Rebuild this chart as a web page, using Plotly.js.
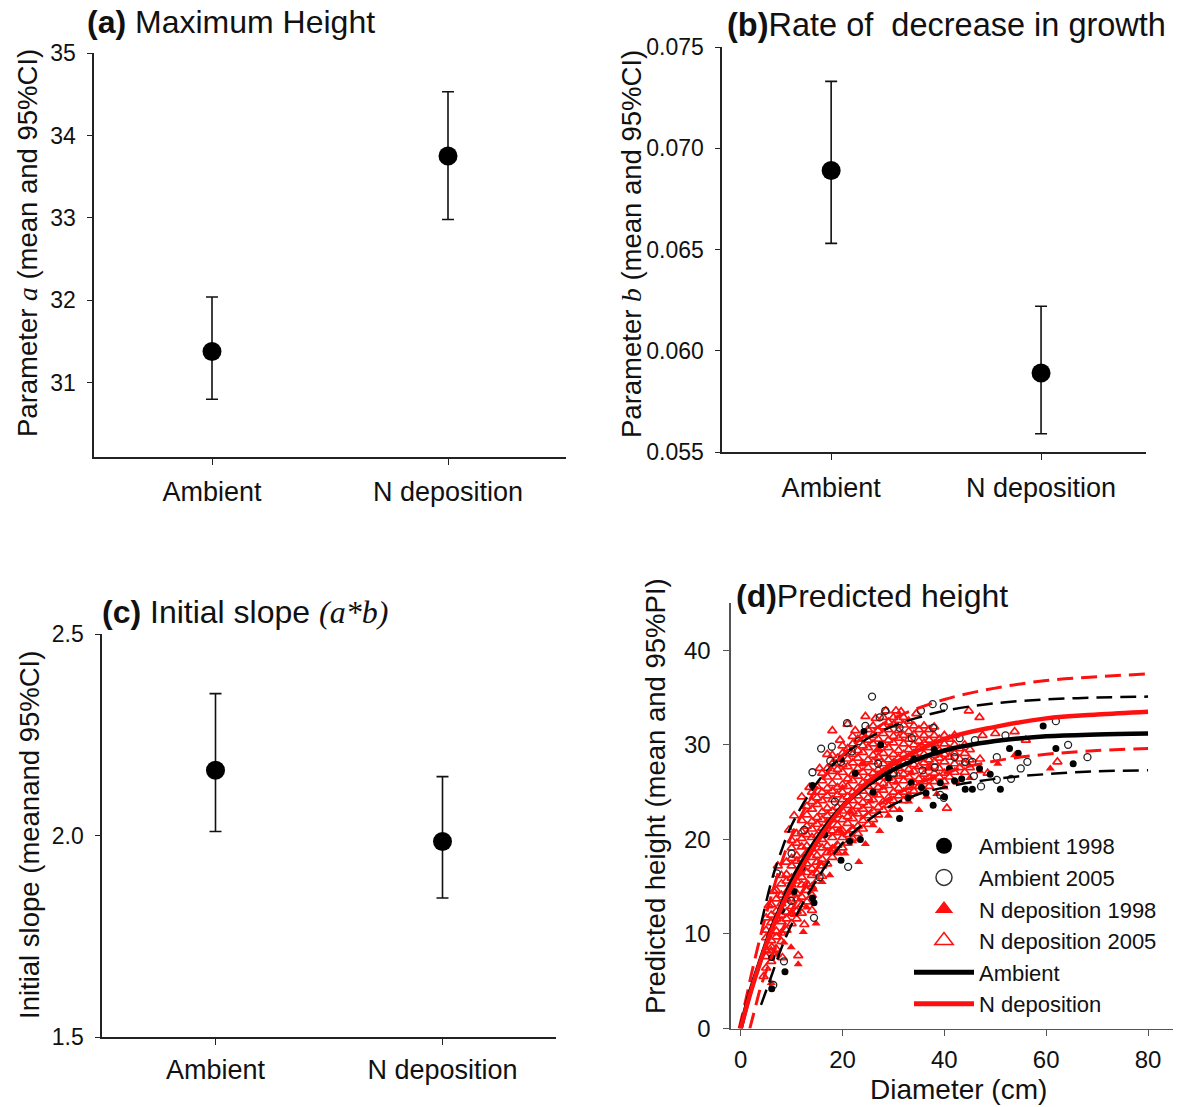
<!DOCTYPE html>
<html><head><meta charset="utf-8">
<script src="https://cdn.plot.ly/plotly-3.0.1.min.js"></script>
<style>html,body{margin:0;padding:0;background:#fff}#chart{width:1192px;height:1107px}</style>
</head><body><div id="chart"></div>
<script>
// ---------- panels a-c: parameter estimates ----------
const groups = ['Ambient', 'N deposition'];
const paramA_mean = [31.38, 33.75];
const paramA_hi   = [32.04, 34.53];
const paramA_lo   = [30.80, 32.98];
const paramB_mean = [0.0689, 0.0589];
const paramB_hi   = [0.0733, 0.0622];
const paramB_lo   = [0.0653, 0.0559];
const slope_mean  = [2.162, 1.985];
const slope_hi    = [2.352, 2.146];
const slope_lo    = [2.010, 1.845];
const ticksA = [31, 32, 33, 34, 35];
const ticksB = [0.055, 0.060, 0.065, 0.070, 0.075];
const ticksC = [1.5, 2.0, 2.5];

// ---------- panel d: fitted curves ----------
const meanD      = [0, 2, 4, 6, 8, 10, 15, 20, 25, 30, 40, 50, 60, 70, 80];
const ambMeanH   = [0, 4.1, 7.4, 10.5, 13.0, 15.6, 20.1, 23.5, 25.8, 27.4, 29.4, 30.4, 30.9, 31.1, 31.2];
const ndepMeanH  = [0, 3.9, 7.3, 10.3, 12.8, 15.0, 19.7, 23.4, 26.1, 28.0, 30.6, 31.9, 32.8, 33.2, 33.5];
const ambHiD     = [4, 6, 8, 10, 15, 20, 25, 30, 35, 40, 50, 60, 70, 80];
const ambHiH     = [11.0, 15.5, 18.8, 21.5, 26.0, 28.8, 30.7, 32.0, 32.9, 33.6, 34.4, 34.8, 35.0, 35.1];
const ambLoD     = [4, 6, 8, 10, 15, 20, 25, 30, 35, 40, 50, 60, 70, 80];
const ambLoH     = [2.5, 5.5, 8.5, 11.0, 15.8, 19.6, 22.0, 23.7, 24.8, 25.5, 26.4, 26.9, 27.2, 27.3];
const ndepHiD    = [-0.3, 1, 2, 4, 6, 8, 10, 15, 20, 25, 30, 40, 50, 60, 70, 80];
const ndepHiH    = [0, 3.0, 5.5, 10.0, 14.0, 17.5, 20.4, 25.5, 28.9, 31.2, 32.8, 34.8, 36.0, 36.8, 37.2, 37.5];
const ndepLoD    = [1.8, 3, 4, 6, 8, 10, 15, 20, 25, 30, 40, 50, 60, 70, 80];
const ndepLoH    = [0, 2.5, 4.5, 7.5, 10.2, 12.5, 17.0, 20.3, 22.8, 24.6, 27.0, 28.3, 29.0, 29.4, 29.6];

// ---------- panel d: observations (diameter, height) ----------
const amb1998 = [[14.1,25.7],[24.2,31.4],[19.7,28.5],[6.1,4.2],[8.7,6.0],[59.4,32.0],[61.9,29.6],[65.3,28.0],
  [51.0,25.3],[52.8,29.6],[54.5,29.1],[42.0,26.2],[43.4,26.4],[44.1,25.3],[45.5,25.3],[37.8,23.6],[31.2,22.2],
  [19.7,17.8],[21.4,19.8],[23.5,20.0],[14.4,13.3],[14.1,13.8],[6.1,7.5],[32.9,24.4],[36.4,24.9],[46.9,27.5],
  [49.0,26.9],[39.2,26.0],[10.5,14.5],[12.0,17.0],[16.5,20.5],[26.0,25.0],[29.0,26.5],[34.0,28.5],[38.0,29.5],
  [41.0,27.5],[8.0,12.5],[22.5,27.0],[27.5,30.0],[33.5,26.0],[35.5,25.5],[40.0,24.5]];
const amb2005 = [[25.8,35.1],[28.4,33.6],[20.9,32.3],[24.5,32.0],[15.8,29.6],[17.9,29.8],[14.1,27.1],[37.7,34.3],
  [35.4,33.6],[27.3,32.9],[61.9,32.5],[64.3,30.0],[68.1,28.7],[56.3,28.2],[55.0,27.5],[50.3,28.7],[53.1,26.4],
  [50.3,26.3],[47.2,25.6],[45.8,26.7],[44.1,28.2],[39.9,24.4],[39.2,24.7],[42.0,28.7],[21.1,17.1],[14.4,11.7],
  [8.5,7.1],[6.4,4.6],[7.1,16.4],[9.9,13.5],[17.6,28.3],[33.6,30.7],[37.8,31.8],[39.9,34.0],[31.2,31.8],
  [23.2,30.4],[19.7,28.2],[21.8,29.3],[35.7,27.3],[38.1,27.6],[45.5,28.2],[43.0,30.7],[12.5,21.0],[10.0,18.5],
  [15.5,16.0],[18.5,24.0],[27.0,28.0],[30.0,27.0],[46.0,30.5],[52.0,31.0]];
const ndep1998 = [[12.3,10.2],[11.3,6.8],[9.9,8.6],[8.5,9.1],[24.5,19.5],[35.0,23.1],[31.2,23.1],[27.3,20.9],
  [60.8,27.5],[53.8,28.9],[14.4,14.7],[23.2,17.6],[18.6,18.7],[14.8,11.1],[6.0,4.8],[7.2,7.8],[10.5,12.0],
  [13.0,12.8],[16.0,15.5],[17.5,16.2],[20.5,18.5],[22.0,19.8],[26.0,21.5],[29.0,22.5],[33.0,24.0],[36.5,24.5],
  [38.5,24.8],[40.0,25.5],[42.5,26.0],[45.0,26.5],[47.0,27.2],[50.5,28.0],[15.5,17.5],[19.5,21.0],[21.5,23.0],
  [25.5,24.0],[28.0,25.5],[30.5,26.0],[33.5,27.0],[37.0,27.5],[20.0,25.5],[17.0,22.0],[12.0,16.5],[9.0,13.5],
  [24.0,28.0],[27.0,29.5],[39.0,29.0]];
// N deposition 2005: dense cloud, one column per diameter class
const ndep2005Cols = [
  [5,[6.4,7.6,8.3,9.6,10.4,11.7]],
  [6,[7.1,8.2,9.3,10.1,11.2,12.0,13.1]],
  [7,[8.4,9.7,10.3,11.6,12.4,13.7,14.6]],
  [8,[9.2,10.1,11.3,12.0,13.2,14.1,15.3,16.2]],
  [9,[10.4,11.6,12.3,13.7,14.4,15.6,16.3,17.6]],
  [10,[11.1,12.2,12.9,14.1,15.2,15.9,17.2,18.0,19.1,19.9]],
  [11,[11.6,12.4,13.7,14.3,15.6,16.4,17.7,18.3,19.6,20.6]],
  [12,[12.2,13.1,13.9,15.2,16.0,17.1,17.9,19.2,20.1,20.8,22.0]],
  [13,[13.4,14.6,15.3,16.5,17.4,18.6,19.3,20.5,21.4,22.6,23.5]],
  [14,[14.1,15.0,16.2,16.9,18.1,19.0,20.2,21.1,21.9,23.2,24.0,25.0]],
  [15,[15.6,16.4,17.6,18.3,19.5,20.4,21.6,22.3,23.7,24.4,25.6]],
  [16,[16.1,17.2,17.9,19.1,20.0,21.2,22.1,22.9,24.1,25.0,26.2,27.0]],
  [17,[17.4,18.6,19.3,20.6,21.4,22.5,23.3,24.6,25.4,26.6,27.5]],
  [18,[18.1,19.0,20.2,20.9,22.1,23.0,24.2,25.1,25.9,27.2,28.0,28.9]],
  [19,[18.6,19.4,20.7,21.5,22.6,23.4,24.7,25.5,26.6,27.4,28.6]],
  [20,[19.1,20.2,20.9,22.1,23.0,24.2,25.0,25.8,27.1,27.9,29.1,29.9]],
  [21,[19.6,20.5,21.7,22.4,23.6,24.5,25.6,26.4,27.7,28.5,29.6]],
  [22,[20.1,21.0,22.2,22.9,24.1,25.0,26.2,26.9,28.1,29.0,30.1,30.9]],
  [23,[20.6,21.4,22.7,23.5,24.6,25.4,26.7,27.5,28.6,29.4,30.6]],
  [24,[21.1,22.0,23.2,23.9,25.1,26.0,27.1,28.0,29.2,29.9,31.0]],
  [25,[21.6,22.5,23.6,24.4,25.6,26.5,27.6,28.4,29.7,30.5,31.6]],
  [26,[22.1,23.0,24.2,24.9,26.1,27.0,28.2,28.9,30.1,31.0,32.0]],
  [27,[22.6,23.4,24.7,25.5,26.6,27.4,28.7,29.5,30.6,31.5]],
  [28,[23.1,24.0,25.2,25.9,27.1,28.0,29.1,30.0,31.2,31.9,32.9]],
  [29,[23.6,24.4,25.7,26.5,27.6,28.4,29.7,30.5,31.6,32.4]],
  [30,[23.2,24.1,25.0,26.2,26.9,28.1,29.0,30.2,30.9,32.1,32.9]],
  [31,[24.6,25.4,26.7,27.5,28.6,29.4,30.7,31.5,32.6]],
  [32,[24.1,25.0,26.2,26.9,28.1,29.0,30.1,31.0,32.1,32.9]],
  [33,[24.6,25.5,26.6,27.4,28.7,29.5,30.6,31.4,32.5]],
  [34,[25.1,26.0,27.2,27.9,29.1,30.0,31.1,32.0]],
  [35,[25.6,26.4,27.7,28.5,29.6,30.4,31.6]],
  [36,[25.1,26.1,26.9,28.1,29.0,30.2,31.0,32.0]],
  [37,[25.6,26.5,27.6,28.4,29.7,30.5,31.6]],
  [38,[26.1,27.0,28.2,28.9,30.1,31.0,31.9]],
  [39,[26.6,27.5,28.6,29.4,30.6]],
  [40,[26.1,27.0,28.2,29.0,30.1,31.0]],
  [41,[26.6,27.4,28.7,29.5,30.6]],
  [42,[27.1,28.0,29.1,30.0,31.0]],
  [43,[27.6,28.5,29.6]],
  [44,[27.1,28.0,29.1,30.0]],
  [45,[27.6,28.4,29.5]]
];
const ndep2005Extra = [[46.9,32.9],[44.8,33.6],[53.8,31.4],[62.2,28.2],[11.3,7.7],[6.1,8.6],[47.5,31.0],[50.0,31.2],
  [56.0,30.5],[40.5,23.3],[12.5,11.0],[14.0,12.5],[8.2,7.5],[18.0,31.5],[21.0,32.2],[24.5,33.0],[28.5,33.6],
  [31.5,33.5],[34.5,33.3],[47.0,28.5],[48.5,27.0],[9.5,21.0],[7.3,17.2],[10.5,22.5],[12.0,24.5],[13.5,25.5],
  [15.5,27.5],[17.0,29.0],[19.5,30.5],[22.5,31.5],[26.5,32.8],[30.5,33.6],[5.5,13.0],[6.5,14.5],[4.5,5.5]];
const diamTicks = [0, 20, 40, 60, 80];
const heightTicks = [0, 10, 20, 30, 40];

// ---------- build ----------
const FONT = 'Liberation Sans, Arial, sans-serif';
const RED = '#ff1010';
const px = p => p[0], py = p => p[1];
const cloudX = [], cloudY = [];
ndep2005Cols.forEach(([d, hs]) => hs.forEach(h => { cloudX.push(d); cloudY.push(h); }));
ndep2005Extra.forEach(p => { cloudX.push(p[0]); cloudY.push(p[1]); });

function est(yv, hi, lo, xa, ya) {
  return {type:'scatter', mode:'markers', x:groups, y:yv, xaxis:xa, yaxis:ya, showlegend:false,
    marker:{size:19, color:'#000'},
    error_y:{type:'data', symmetric:false, array:hi.map((v,i)=>v-yv[i]), arrayminus:lo.map((v,i)=>yv[i]-v),
      color:'#111', thickness:1.6, width:6}};
}
const traces = [
  est(paramA_mean, paramA_hi, paramA_lo, 'x', 'y'),
  est(paramB_mean, paramB_hi, paramB_lo, 'x2', 'y2'),
  est(slope_mean, slope_hi, slope_lo, 'x3', 'y3'),
  // observations
  {type:'scatter', mode:'markers', x:cloudX, y:cloudY, xaxis:'x4', yaxis:'y4', showlegend:false,
    marker:{symbol:'triangle-up-open', size:8, color:RED, line:{width:1.7, color:RED}}},
  {type:'scatter', mode:'markers', x:ndep1998.map(px), y:ndep1998.map(py), xaxis:'x4', yaxis:'y4', showlegend:false,
    marker:{symbol:'triangle-up', size:8, color:RED}},
  {type:'scatter', mode:'markers', x:amb2005.map(px), y:amb2005.map(py), xaxis:'x4', yaxis:'y4', showlegend:false,
    marker:{symbol:'circle-open', size:7, color:'#222', line:{width:1.3, color:'#222'}}},
  {type:'scatter', mode:'markers', x:amb1998.map(px), y:amb1998.map(py), xaxis:'x4', yaxis:'y4', showlegend:false,
    marker:{symbol:'circle', size:7, color:'#000'}},
  // prediction intervals
  {type:'scatter', mode:'lines', x:ambHiD, y:ambHiH, xaxis:'x4', yaxis:'y4', showlegend:false,
    line:{color:'#000', width:2.5, dash:'16px,8px', shape:'spline'}},
  {type:'scatter', mode:'lines', x:ambLoD, y:ambLoH, xaxis:'x4', yaxis:'y4', showlegend:false,
    line:{color:'#000', width:2.5, dash:'16px,8px', shape:'spline'}},
  {type:'scatter', mode:'lines', x:ndepHiD, y:ndepHiH, xaxis:'x4', yaxis:'y4', showlegend:false,
    line:{color:RED, width:3, dash:'16px,8px', shape:'spline'}},
  {type:'scatter', mode:'lines', x:ndepLoD, y:ndepLoH, xaxis:'x4', yaxis:'y4', showlegend:false,
    line:{color:RED, width:3, dash:'16px,8px', shape:'spline'}},
  // means
  {type:'scatter', mode:'lines', x:meanD, y:ambMeanH, xaxis:'x4', yaxis:'y4', showlegend:false,
    line:{color:'#000', width:4.5, shape:'spline'}},
  {type:'scatter', mode:'lines', x:meanD, y:ndepMeanH, xaxis:'x4', yaxis:'y4', showlegend:false,
    line:{color:RED, width:4.5, shape:'spline'}},
  // legend entries
  {type:'scatter', mode:'markers', x:[null], y:[null], xaxis:'x4', yaxis:'y4', name:'Ambient 1998',
    marker:{symbol:'circle', size:16, color:'#000'}},
  {type:'scatter', mode:'markers', x:[null], y:[null], xaxis:'x4', yaxis:'y4', name:'Ambient 2005',
    marker:{symbol:'circle-open', size:16, color:'#333', line:{width:1.5, color:'#333'}}},
  {type:'scatter', mode:'markers', x:[null], y:[null], xaxis:'x4', yaxis:'y4', name:'N deposition 1998',
    marker:{symbol:'triangle-up', size:16, color:RED}},
  {type:'scatter', mode:'markers', x:[null], y:[null], xaxis:'x4', yaxis:'y4', name:'N deposition 2005',
    marker:{symbol:'triangle-up-open', size:16, color:RED, line:{width:1.5, color:RED}}},
  {type:'scatter', mode:'lines', x:[null], y:[null], xaxis:'x4', yaxis:'y4', name:'Ambient',
    line:{color:'#000', width:5}},
  {type:'scatter', mode:'lines', x:[null], y:[null], xaxis:'x4', yaxis:'y4', name:'N deposition',
    line:{color:RED, width:5}}
];

const W = 1192, H = 1107;
const fx = p => p / W, fy = p => 1 - p / H;
function catAxis(d0, d1, anchor, rng, so) {
  return {domain:[fx(d0), fx(d1)], anchor:anchor, type:'category', range:rng,
    showline:true, linecolor:'#222', linewidth:1.6, ticks:'outside', ticklen:6, tickcolor:'#222',
    showgrid:false, zeroline:false, tickfont:{size:27, color:'#111'}, ticklabelstandoff:so, fixedrange:true};
}
function valAxis(top, bot, anchor, rng, tv, fmt) {
  return {domain:[fy(bot), fy(top)], anchor:anchor, range:rng, tickvals:tv, tickformat:fmt,
    showline:true, linecolor:'#222', linewidth:1.6, ticks:'outside', ticklen:5, tickcolor:'#222',
    showgrid:false, zeroline:false, tickfont:{size:23, color:'#111'}, ticklabelstandoff:7};
}
const serif = t => '<span style="font-family:Liberation Serif"><i>' + t + '</i></span>';
function ann(text, x, y, size, opts) {
  return Object.assign({text:text, x:fx(x), y:fy(y), xref:'paper', yref:'paper', showarrow:false,
    font:{size:size, color:'#111', family:FONT}}, opts || {});
}

const layout = {
  width:W, height:H, margin:{l:0, r:0, t:0, b:0}, paper_bgcolor:'#fff', plot_bgcolor:'rgba(0,0,0,0)',
  font:{family:FONT, color:'#111'},
  xaxis: catAxis(94, 566, 'y', [-0.5, 1.5], 4),
  yaxis: valAxis(53, 457, 'x', [30.1, 35], ticksA, ''),
  xaxis2: catAxis(722, 1146, 'y2', [-0.52, 1.5], 5),
  yaxis2: valAxis(47, 452, 'x2', [0.055, 0.075], ticksB, '.3f'),
  xaxis3: catAxis(102, 556, 'y3', [-0.5, 1.5], 2),
  yaxis3: valAxis(634, 1037, 'x3', [1.5, 2.5], ticksC, '.1f'),
  xaxis4: {domain:[fx(731), fx(1173)], anchor:'y4', range:[-1.9, 84.9], tickvals:diamTicks,
    showline:true, linecolor:'#555', linewidth:1.6, ticks:'outside', ticklen:6, tickcolor:'#555',
    showgrid:false, zeroline:false, tickfont:{size:24, color:'#111'}, ticklabelstandoff:3},
  yaxis4: {domain:[fy(1028.5), fy(603)], anchor:'x4', range:[0, 45], tickvals:heightTicks,
    showline:true, linecolor:'#555', linewidth:1.6, ticks:'outside', ticklen:6, tickcolor:'#555',
    showgrid:false, zeroline:false, tickfont:{size:24, color:'#111'}, ticklabelstandoff:8},
  showlegend:true,
  legend:{x:fx(909), y:fy(825), xanchor:'left', yanchor:'top', bgcolor:'rgba(0,0,0,0)',
    font:{size:22, color:'#111', family:FONT}, itemwidth:60, tracegroupgap:0},
  annotations:[
    ann('<b>(a)</b> Maximum Height', 85, 22, 32, {xanchor:'left', yanchor:'middle'}),
    ann('<b>(b)</b>Rate of\u00a0 decrease in growth', 725, 25, 32.5, {xanchor:'left', yanchor:'middle'}),
    ann('<b>(c)</b> Initial slope ' + serif('(a*b)'), 100, 612, 32, {xanchor:'left', yanchor:'middle'}),
    ann('<b>(d)</b>Predicted height', 734, 596, 32, {xanchor:'left', yanchor:'middle'}),
    ann('Parameter ' + serif('a') + ' (mean and 95%CI)', 28, 243, 27.5, {textangle:-90, xanchor:'center', yanchor:'middle'}),
    ann('Parameter ' + serif('b') + ' (mean and 95%CI)', 631, 244, 27.5, {textangle:-90, xanchor:'center', yanchor:'middle'}),
    ann('Initial slope (meanand 95%CI)', 29, 835, 27.5, {textangle:-90, xanchor:'center', yanchor:'middle'}),
    ann('Predicted height (mean and 95%PI)', 655, 796, 27.5, {textangle:-90, xanchor:'center', yanchor:'middle'}),
    ann('Diameter (cm)', 958, 1089, 28, {xanchor:'center', yanchor:'middle'})
  ]
};
Plotly.newPlot('chart', traces, layout, {displayModeBar:false, staticPlot:true});
</script></body></html>
